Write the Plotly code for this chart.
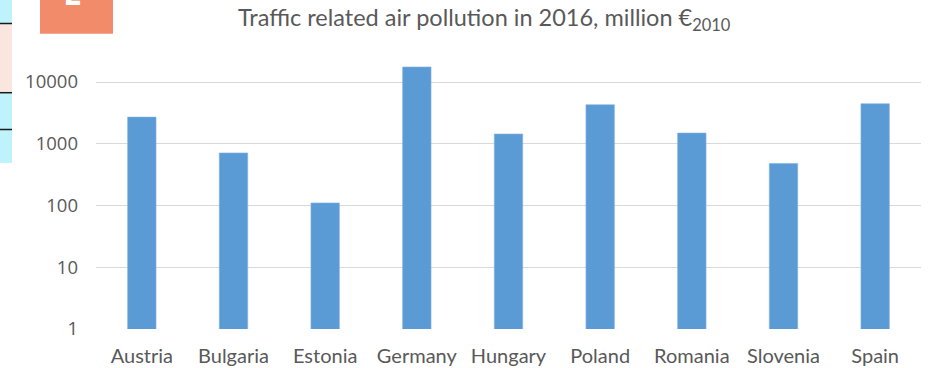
import plotly.graph_objects as go

# Traffic related air pollution costs in 2016 (million EUR, 2010 prices)
countries = ["Austria", "Bulgaria", "Estonia", "Germany", "Hungary",
             "Poland", "Romania", "Slovenia", "Spain"]
costs = [2700, 710, 110, 17500, 1440, 4280, 1490, 480, 4450]
tick_values = [1, 10, 100, 1000, 10000]
tick_labels = ["1", "10", "100", "1000", "10000"]

W, H = 929, 368
ML, MR, MT, MB = 96, 8, 60, 39
PW, PH = W - ML - MR, H - MT - MB


def px_x(x):
    return (x - ML) / PW


def px_y(y):
    return (H - MB - y) / PH


BAR = "#5B9BD5"
GRID = "#D9D9D9"
TEXT = "#595959"

fig = go.Figure(
    go.Bar(
        x=countries,
        y=costs,
        marker=dict(color=BAR, line=dict(color="#7FB2E2", width=0.6)),
        width=0.31,
        hoverinfo="x+y",
    )
)

# slide elements next to the chart
shapes = [
    dict(type="rect", x0=px_x(0), x1=px_x(12), y0=px_y(0), y1=px_y(23.5),
         fillcolor="#BEF3FB", line_width=0),
    dict(type="rect", x0=px_x(0), x1=px_x(12), y0=px_y(23.5), y1=px_y(92.7),
         fillcolor="#FBE5DF", line_width=0),
    dict(type="rect", x0=px_x(0), x1=px_x(12), y0=px_y(92.7), y1=px_y(163),
         fillcolor="#BEF3FB", line_width=0),
    dict(type="line", x0=px_x(0), x1=px_x(12), y0=px_y(23.5), y1=px_y(23.5),
         line=dict(color="#1a1a1a", width=1.5)),
    dict(type="line", x0=px_x(0), x1=px_x(12), y0=px_y(92.7), y1=px_y(92.7),
         line=dict(color="#1a1a1a", width=1.5)),
    dict(type="line", x0=px_x(0), x1=px_x(12), y0=px_y(129.5), y1=px_y(129.5),
         line=dict(color="#1a1a1a", width=1.5)),
    dict(type="rect", x0=px_x(40), x1=px_x(113), y0=px_y(-5), y1=px_y(33.7),
         fillcolor="#F28B69", line_width=0),
]
for s in shapes:
    s.update(xref="paper", yref="paper", layer="above")

annotations = [
    dict(text="Traffic related air pollution in 2016, million €<sub>2010</sub>",
         x=px_x(484), y=px_y(19), xref="paper", yref="paper",
         showarrow=False, xanchor="center", yanchor="middle",
         font=dict(family="Lato", size=23.5, color=TEXT)),
    dict(text="<b>E</b>", x=px_x(72), y=px_y(-8), xref="paper", yref="paper",
         showarrow=False, xanchor="center", yanchor="middle",
         font=dict(family="Open Sans", size=34, color="white")),
]

fig.update_layout(
    width=W, height=H,
    margin=dict(l=ML, r=MR, t=MT, b=MB, pad=0, autoexpand=False),
    paper_bgcolor="white", plot_bgcolor="white",
    showlegend=False,
    shapes=shapes,
    annotations=annotations,
    xaxis=dict(
        showgrid=False, showline=False, zeroline=False, ticks="",
        tickfont=dict(family="Lato", size=20, color=TEXT),
        ticklabelstandoff=13, automargin=False,
    ),
    yaxis=dict(
        type="log", range=[0, (H - MB - MT) / 61.75],
        tickvals=tick_values, ticktext=tick_labels,
        showgrid=True, gridcolor=GRID, gridwidth=1.3,
        showline=False, zeroline=False, ticks="",
        tickfont=dict(family="Open Sans", size=18.5, color=TEXT),
        ticklabelstandoff=17, automargin=False,
    ),
)

fig.write_html("out.html")
